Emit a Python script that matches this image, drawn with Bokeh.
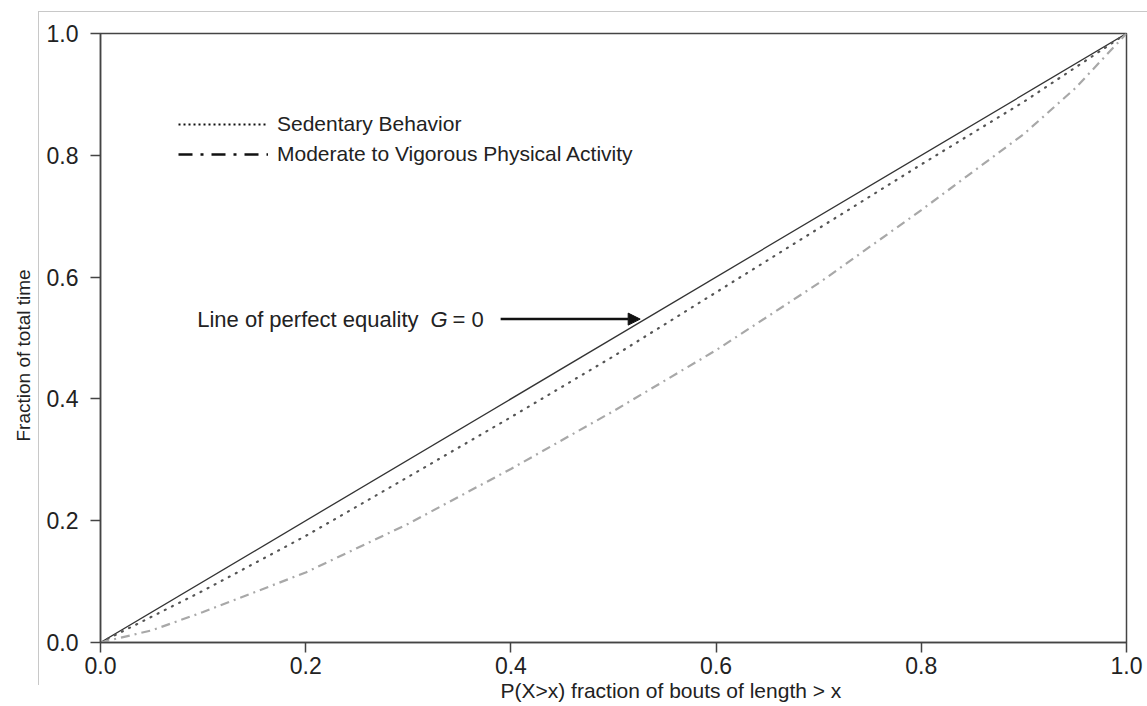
import math
from bokeh.plotting import figure
from bokeh.models import (Range1d, FixedTicker, Legend, LegendItem, Label, Arrow,
                          NormalHead, ColumnDataSource, Title)
from bokeh.embed import file_html
from bokeh.resources import INLINE

# ---------------- data ----------------
equality_x = [0.0, 1.0]
equality_y = [0.0, 1.0]

sed_x = [0.0, 0.1, 0.2, 0.3, 0.4, 0.5, 0.6, 0.7, 0.8, 0.9, 1.0]
sed_y = [0.0, 0.085, 0.175, 0.272, 0.37, 0.47, 0.575, 0.68, 0.785, 0.888, 1.0]

mvpa_x = [0.0, 0.05, 0.1, 0.2, 0.3, 0.4, 0.5, 0.6, 0.7, 0.8, 0.9, 0.95, 1.0]
mvpa_y = [0.0, 0.02, 0.05, 0.115, 0.195, 0.285, 0.38, 0.48, 0.59, 0.71, 0.835, 0.91, 1.0]

ticks = [0.0, 0.2, 0.4, 0.6, 0.8, 1.0]
tick_labels = ["0.0", "0.2", "0.4", "0.6", "0.8", "1.0"]

legend_labels = ["Sedentary Behavior", "Moderate to Vigorous Physical Activity"]
x_title = "P(X>x) fraction of bouts of length > x"
y_title = "Fraction of total time"
note_text = "Line of perfect equality"
note_g = "G"
note_eq = "= 0"

FONT = "Liberation Sans"
TXT = "#222222"

p = figure(width=1147, height=706, output_backend="svg", toolbar_location=None,
           x_range=Range1d(0, 1), y_range=Range1d(0, 1),
           min_border_left=100, min_border_right=21, min_border_top=33, min_border_bottom=64)
p.background_fill_color = "white"
p.border_fill_alpha = 0
p.styles = {
    "background": ("linear-gradient(#c8c8c8, #c8c8c8) 38px 11px / 1px 674px no-repeat, "
                   "linear-gradient(#c8c8c8, #c8c8c8) 38px 11px / 1109px 1px no-repeat, white"),
}
p.outline_line_color = "#444444"
p.outline_line_width = 1.5
p.xgrid.visible = False
p.ygrid.visible = False

for ax in (p.xaxis[0], p.yaxis[0]):
    ax.ticker = FixedTicker(ticks=ticks)
    ax.major_label_overrides = {t: l for t, l in zip(ticks, tick_labels)}
    ax.axis_line_color = "#444444"
    ax.axis_line_width = 1.5
    ax.major_tick_line_color = "#444444"
    ax.major_tick_line_width = 1.5
    ax.major_tick_in = 0
    ax.major_tick_out = 10
    ax.minor_tick_line_color = None
    ax.major_label_text_font = FONT
    ax.major_label_text_font_size = "23px"
    ax.major_label_text_color = TXT
p.xaxis[0].major_label_standoff = 4
p.yaxis[0].major_label_standoff = 12

# axis titles as side-panel titles (allow offset along the axis)
p.add_layout(Title(text=x_title, align="left", offset=400, standoff=0,
                   text_font=FONT, text_font_size="21px", text_font_style="normal",
                   text_color=TXT), "below")
p.add_layout(Title(text=y_title, align="left", offset=201, standoff=20,
                   text_font=FONT, text_font_size="19px", text_font_style="normal",
                   text_color=TXT), "left")

# curves
p.line(equality_x, equality_y, line_color="#333333", line_width=1.3)
p.line(sed_x, sed_y, line_color="#555555", line_width=2.2, line_dash="1 7", line_cap="round")
p.line(mvpa_x, mvpa_y, line_color="#a8a8a8", line_width=2.2, line_dash="9 5 2 5")

# legend proxies (black samples, no visible data)
proxy = ColumnDataSource(data=dict(x=[float("nan")], y=[float("nan")]))
r_sed = p.line("x", "y", source=proxy, line_color="#111111", line_width=2.2, line_dash="2 3")
r_mv = p.line("x", "y", source=proxy, line_color="#111111", line_width=2.5, line_dash="14 8 3 8")
legend = Legend(items=[LegendItem(label=legend_labels[0], renderers=[r_sed]),
                       LegendItem(label=legend_labels[1], renderers=[r_mv])],
                location=(78, 476), padding=0, margin=0, spacing=6,
                glyph_width=90, glyph_height=24, label_height=24, label_standoff=9,
                label_text_font=FONT, label_text_font_size="21px", label_text_color=TXT,
                border_line_color=None, background_fill_alpha=0)
p.add_layout(legend, "center")

# annotation text and arrow
p.add_layout(Label(x=0.31, y=0.531, text=note_text, text_align="right", text_baseline="middle",
                   text_font=FONT, text_font_size="22px", text_color=TXT))
p.add_layout(Label(x=0.3216, y=0.531, text=note_g, text_align="left", text_baseline="middle",
                   text_font=FONT, text_font_size="22px", text_font_style="italic", text_color=TXT))
p.add_layout(Label(x=0.343, y=0.531, text=note_eq, text_align="left", text_baseline="middle",
                   text_font=FONT, text_font_size="22px", text_color=TXT))
p.add_layout(Arrow(x_start=0.39, y_start=0.531, x_end=0.526, y_end=0.531,
                   line_color="#111111", line_width=2.5,
                   end=NormalHead(size=12, fill_color="#111111", line_color="#111111")))

open("out.html", "w").write(file_html(p, INLINE))
